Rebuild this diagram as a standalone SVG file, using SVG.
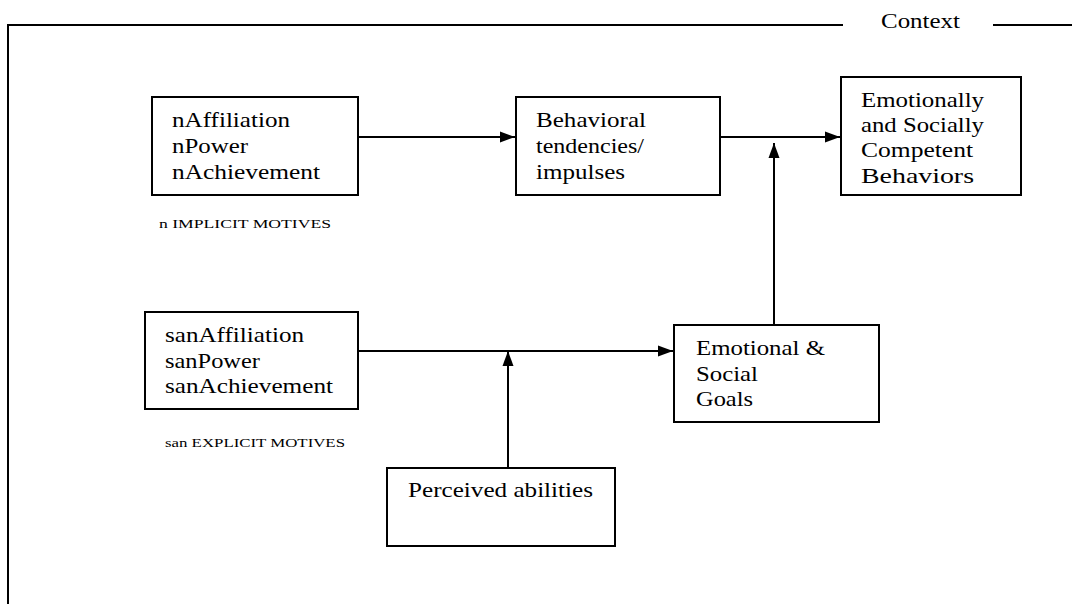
<svg xmlns="http://www.w3.org/2000/svg" width="1072" height="604" viewBox="0 0 1072 604">
<style>
.box{fill:#fff;stroke:#000;stroke-width:2}
.t{font-family:"Liberation Serif","Times New Roman",serif;font-size:21px;fill:#000}
.s{font-family:"Liberation Serif","Times New Roman",serif;font-size:13px;fill:#000}
.c{fill:none;stroke:#000;stroke-width:2}
</style>
<defs>
<marker id="ah" markerUnits="userSpaceOnUse" markerWidth="16" markerHeight="12" refX="15" refY="6" orient="auto">
<path d="M0,0.5 L15,6 L0,11.5 Z" fill="#000"/>
</marker>
</defs>
<g id="context">
<path class="c" d="M8,604 V25 H843 M993,25 H1072"/>
<text class="t" x="881" y="28" textLength="79" lengthAdjust="spacingAndGlyphs">Context</text>
</g>
<g id="implicit">
<rect class="box" x="152" y="97" width="206" height="98"/>
<text class="t" x="172" y="127" textLength="118" lengthAdjust="spacingAndGlyphs">nAffiliation</text>
<text class="t" x="172" y="153" textLength="76" lengthAdjust="spacingAndGlyphs">nPower</text>
<text class="t" x="172" y="179" textLength="148" lengthAdjust="spacingAndGlyphs">nAchievement</text>
<text class="s" x="159" y="228" textLength="172" lengthAdjust="spacingAndGlyphs">n IMPLICIT MOTIVES</text>
</g>
<g id="behavioral">
<rect class="box" x="516" y="97" width="204" height="98"/>
<text class="t" x="536" y="127" textLength="110" lengthAdjust="spacingAndGlyphs">Behavioral</text>
<text class="t" x="536" y="153" textLength="108" lengthAdjust="spacingAndGlyphs">tendencies/</text>
<text class="t" x="536" y="179" textLength="89" lengthAdjust="spacingAndGlyphs">impulses</text>
</g>
<g id="competent">
<rect class="box" x="841" y="77" width="180" height="118"/>
<text class="t" x="861" y="107" textLength="123" lengthAdjust="spacingAndGlyphs">Emotionally</text>
<text class="t" x="861" y="132" textLength="123" lengthAdjust="spacingAndGlyphs">and Socially</text>
<text class="t" x="861" y="157" textLength="112" lengthAdjust="spacingAndGlyphs">Competent</text>
<text class="t" x="861" y="183" textLength="113" lengthAdjust="spacingAndGlyphs">Behaviors</text>
</g>
<g id="explicit">
<rect class="box" x="145" y="312" width="213" height="97"/>
<text class="t" x="165" y="342" textLength="139" lengthAdjust="spacingAndGlyphs">sanAffiliation</text>
<text class="t" x="165" y="368" textLength="95" lengthAdjust="spacingAndGlyphs">sanPower</text>
<text class="t" x="165" y="393" textLength="168" lengthAdjust="spacingAndGlyphs">sanAchievement</text>
<text class="s" x="165" y="447" textLength="180" lengthAdjust="spacingAndGlyphs">san EXPLICIT MOTIVES</text>
</g>
<g id="goals">
<rect class="box" x="674" y="325" width="205" height="97"/>
<text class="t" x="696" y="355" textLength="129" lengthAdjust="spacingAndGlyphs">Emotional &amp;</text>
<text class="t" x="696" y="381" textLength="62" lengthAdjust="spacingAndGlyphs">Social</text>
<text class="t" x="696" y="406" textLength="57" lengthAdjust="spacingAndGlyphs">Goals</text>
</g>
<g id="abilities">
<rect class="box" x="387" y="468" width="228" height="78"/>
<text class="t" x="408" y="497" textLength="185" lengthAdjust="spacingAndGlyphs">Perceived abilities</text>
</g>
<g id="connectors">
<path class="c" d="M358,137 H515" marker-end="url(#ah)"/>
<path class="c" d="M720,137 H840" marker-end="url(#ah)"/>
<path class="c" d="M774,325 V143" marker-end="url(#ah)"/>
<path class="c" d="M358,351 H673" marker-end="url(#ah)"/>
<path class="c" d="M508,468 V351" marker-end="url(#ah)"/>
</g>
</svg>
